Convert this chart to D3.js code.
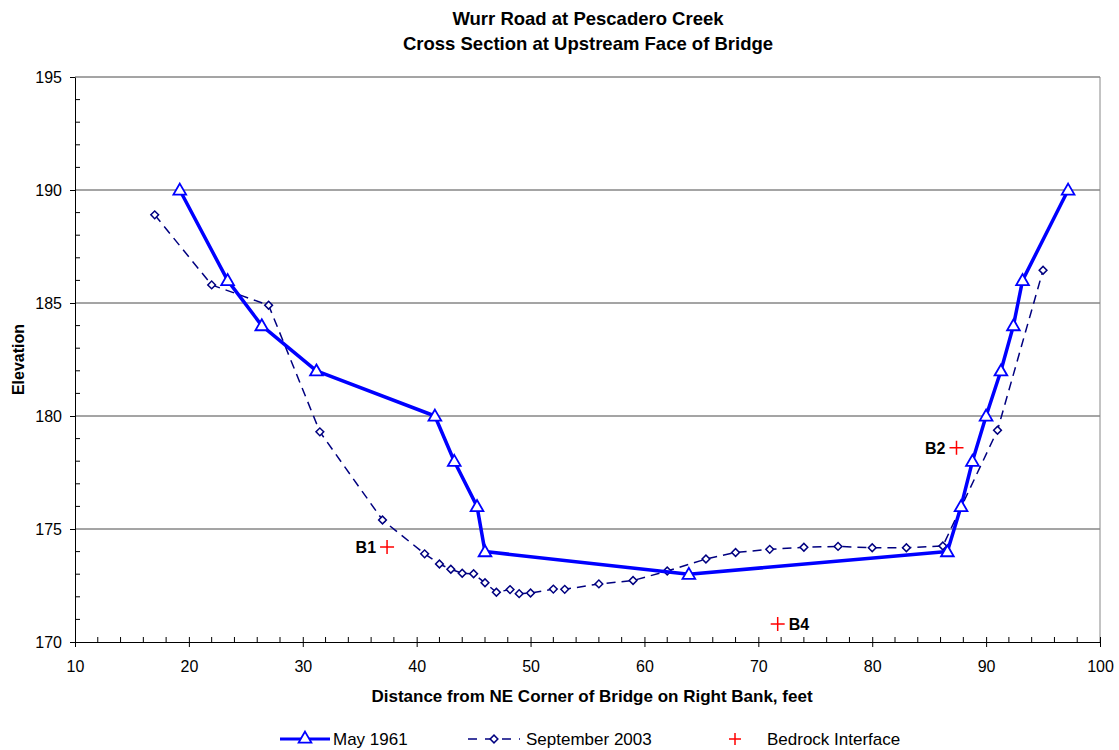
<!DOCTYPE html>
<html>
<head>
<meta charset="utf-8">
<script src="https://cdn.jsdelivr.net/npm/d3@7"></script>
<style>
  body { margin: 0; background: #fff; }
  text { font-family: Arial, "Liberation Sans", sans-serif; }
</style>
</head>
<body>
<div id="chart"></div>
<script>
// chart size
var width = 1119;
var height = 750;

// May 1961 survey (distance, elevation)
var may1961X = [19.2, 23.4, 26.4, 31.2, 41.6, 43.3, 45.3, 46.0, 63.9, 86.6, 87.8, 88.8, 90.0, 91.3, 92.4, 93.2, 97.2];
var may1961Y = [190, 186, 184, 182, 180, 178, 176, 174, 173, 174, 176, 178, 180, 182, 184, 186, 190];

// September 2003 survey
var sep2003X = [17.0, 22.0, 27.0, 31.5, 37.0, 40.7, 42.0, 43.0, 44.0, 45.0, 46.0, 47.0, 48.2, 49.0, 50.0, 52.0, 53.0, 56.0, 59.0, 62.0, 65.4, 68.0, 71.0, 74.0, 77.0, 80.0, 83.0, 86.2, 91.0, 95.0];
var sep2003Y = [188.9, 185.8, 184.9, 179.3, 175.4, 173.9, 173.45, 173.22, 173.04, 173.02, 172.62, 172.2, 172.32, 172.14, 172.17, 172.34, 172.33, 172.57, 172.72, 173.14, 173.67, 173.96, 174.1, 174.19, 174.23, 174.17, 174.17, 174.25, 179.37, 186.45];

// bedrock interface points
var bedrockNames = ["B1", "B2", "B4"];
var bedrockX = [37.4, 87.4, 71.7];
var bedrockY = [174.2, 178.6, 170.8];

// axis ticks
var xTicks = [10, 20, 30, 40, 50, 60, 70, 80, 90, 100];
var yTicks = [170, 175, 180, 185, 190, 195];

var margin = { left: 75, right: 19, top: 77, bottom: 108 };

var svg = d3.select("#chart")
  .append("svg")
  .attr("width", width)
  .attr("height", height);

var x = d3.scaleLinear().domain([10, 100]).range([margin.left, width - margin.right]);
var y = d3.scaleLinear().domain([170, 195]).range([height - margin.bottom, margin.top]);

var x0 = x(10), x1 = x(100), yb = y(170), yt = y(195);

// title
svg.append("text")
  .attr("x", 588).attr("y", 25)
  .attr("text-anchor", "middle")
  .style("font-weight", "bold").style("font-size", "18.5px")
  .text("Wurr Road at Pescadero Creek");
svg.append("text")
  .attr("x", 588).attr("y", 50)
  .attr("text-anchor", "middle")
  .style("font-weight", "bold").style("font-size", "18.5px")
  .text("Cross Section at Upstream Face of Bridge");

// gridlines
svg.append("g")
  .selectAll("line")
  .data(yTicks.slice(1))
  .enter()
  .append("line")
  .attr("x1", x0).attr("x2", x1)
  .attr("y1", function(d) { return y(d); })
  .attr("y2", function(d) { return y(d); })
  .attr("stroke", "#4a4a4a")
  .attr("stroke-width", 1);

// right frame edge
svg.append("line")
  .attr("x1", x1).attr("x2", x1).attr("y1", yt).attr("y2", yb)
  .attr("stroke", "#888").attr("stroke-width", 1);

// minor ticks (inside)
var xMinor = d3.range(12, 100, 2).filter(function(d) { return d % 10 !== 0; });
var yMinor = d3.range(171, 195, 1).filter(function(d) { return d % 5 !== 0; });

svg.append("g")
  .selectAll("line")
  .data(xMinor)
  .enter()
  .append("line")
  .attr("x1", function(d) { return x(d); })
  .attr("x2", function(d) { return x(d); })
  .attr("y1", yb).attr("y2", yb - 5)
  .attr("stroke", "#000");

svg.append("g")
  .selectAll("line")
  .data(yMinor)
  .enter()
  .append("line")
  .attr("y1", function(d) { return y(d); })
  .attr("y2", function(d) { return y(d); })
  .attr("x1", x0).attr("x2", x0 + 5)
  .attr("stroke", "#000");

// x axis
var xAxis = d3.axisBottom(x).tickValues(xTicks).tickSizeInner(5).tickSizeOuter(0).tickPadding(14);
var gx = svg.append("g")
  .attr("transform", "translate(0," + yb + ")")
  .call(xAxis);
gx.selectAll(".tick line").attr("y1", -5).attr("y2", 5);
gx.selectAll("text").style("font-size", "16px").attr("fill", "#000");
gx.select(".domain").attr("stroke", "#000");

// y axis
var yAxis = d3.axisLeft(y).tickValues(yTicks).tickSizeInner(5).tickSizeOuter(0).tickPadding(8);
var gy = svg.append("g")
  .attr("transform", "translate(" + x0 + ",0)")
  .call(yAxis);
gy.selectAll("text").style("font-size", "16px").attr("fill", "#000");
gy.select(".domain").attr("stroke", "#000");

// axis titles
svg.append("text")
  .attr("x", 592).attr("y", 702)
  .attr("text-anchor", "middle")
  .style("font-weight", "bold").style("font-size", "17px")
  .text("Distance from NE Corner of Bridge on Right Bank, feet");

svg.append("text")
  .attr("transform", "translate(24," + ((yt + yb) / 2) + ") rotate(-90)")
  .attr("text-anchor", "middle")
  .style("font-weight", "bold").style("font-size", "16px")
  .text("Elevation");

// build point tables
var mayData = may1961X.map(function(d, i) { return [d, may1961Y[i]]; });
var sepData = sep2003X.map(function(d, i) { return [d, sep2003Y[i]]; });
var rockData = bedrockX.map(function(d, i) { return { name: bedrockNames[i], x: d, y: bedrockY[i] }; });

var line = d3.line()
  .x(function(d) { return x(d[0]); })
  .y(function(d) { return y(d[1]); });

var triangle = d3.symbol().type(d3.symbolTriangle).size(70);
var diamond = d3.symbol().type(d3.symbolSquare).size(30);

// September 2003 dashed line
svg.append("path")
  .datum(sepData)
  .attr("d", line)
  .attr("fill", "none")
  .attr("stroke", "#000080")
  .attr("stroke-width", 1.5)
  .attr("stroke-dasharray", "9,6");

svg.append("g")
  .selectAll("path")
  .data(sepData)
  .enter()
  .append("path")
  .attr("d", diamond)
  .attr("transform", function(d) { return "translate(" + x(d[0]) + "," + y(d[1]) + ") rotate(45)"; })
  .attr("fill", "#fff")
  .attr("stroke", "#000080")
  .attr("stroke-width", 1.5);

// May 1961 solid line
svg.append("path")
  .datum(mayData)
  .attr("d", line)
  .attr("fill", "none")
  .attr("stroke", "#0000ff")
  .attr("stroke-width", 3.5)
  .attr("stroke-linejoin", "round");

svg.append("g")
  .selectAll("path")
  .data(mayData)
  .enter()
  .append("path")
  .attr("d", triangle)
  .attr("transform", function(d) { return "translate(" + x(d[0]) + "," + (y(d[1]) + 1) + ")"; })
  .attr("fill", "#fff")
  .attr("stroke", "#0000ff")
  .attr("stroke-width", 1.8);

// bedrock crosses and labels
var rock = svg.append("g")
  .selectAll("g")
  .data(rockData)
  .enter()
  .append("g")
  .attr("transform", function(d) { return "translate(" + x(d.x) + "," + y(d.y) + ")"; });

rock.append("path")
  .attr("d", "M-7,0H7M0,-7V7")
  .attr("stroke", "#ff0000")
  .attr("stroke-width", 1.5);

rock.append("text")
  .attr("x", function(d) { return d.name === "B4" ? 11 : -11; })
  .attr("y", 6)
  .attr("text-anchor", function(d) { return d.name === "B4" ? "start" : "end"; })
  .style("font-weight", "bold").style("font-size", "16px")
  .text(function(d) { return d.name; });

// legend
var legend = svg.append("g").attr("transform", "translate(0,739)");

legend.append("line")
  .attr("x1", 280).attr("x2", 330)
  .attr("stroke", "#0000ff").attr("stroke-width", 3);
legend.append("path")
  .attr("d", triangle)
  .attr("transform", "translate(305,0)")
  .attr("fill", "#fff").attr("stroke", "#0000ff").attr("stroke-width", 1.8);
legend.append("text")
  .attr("x", 333).attr("y", 6)
  .style("font-size", "17px")
  .text("May 1961");

legend.append("line")
  .attr("x1", 468).attr("x2", 520)
  .attr("stroke", "#000080").attr("stroke-width", 1.5)
  .attr("stroke-dasharray", "9,8");
legend.append("path")
  .attr("d", diamond)
  .attr("transform", "translate(494,0) rotate(45)")
  .attr("fill", "#fff").attr("stroke", "#000080").attr("stroke-width", 1.5);
legend.append("text")
  .attr("x", 526).attr("y", 6)
  .style("font-size", "17px")
  .text("September 2003");

legend.append("path")
  .attr("d", "M-6,0H6M0,-6V6")
  .attr("transform", "translate(735,0)")
  .attr("stroke", "#ff0000").attr("stroke-width", 1.5);
legend.append("text")
  .attr("x", 767).attr("y", 6)
  .style("font-size", "17px")
  .text("Bedrock Interface");
</script>
</body>
</html>
